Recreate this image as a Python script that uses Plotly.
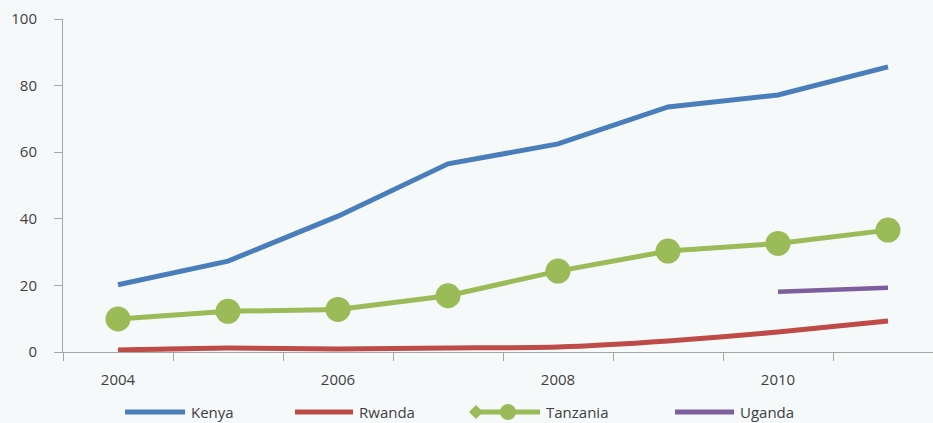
import plotly.graph_objects as go

# Series values by year
years = [2004, 2005, 2006, 2007, 2008, 2009, 2010, 2011]
kenya = [20.2, 27.3, 40.8, 56.5, 62.5, 73.6, 77.2, 85.6]
rwanda = [0.6, 1.2, 0.9, 1.2, 1.5, 3.3, 6.0, 9.3]
tanzania = [9.9, 12.2, 12.8, 16.9, 24.3, 30.3, 32.6, 36.6]
uganda_years = [2010, 2011]
uganda = [18.1, 19.3]

x_tick_labels = ["2004", "2006", "2008", "2010"]
x_tick_vals = [2004, 2006, 2008, 2010]
y_tick_vals = [0, 20, 40, 60, 80, 100]

BLUE = "#4a7ebb"
RED = "#be4b48"
GREEN = "#9bbb59"
PURPLE = "#7d5fa0"
AXIS = "#a6a6a6"
TEXT = "#404040"
BG = "#f6f9fa"
FONT = "Open Sans"

W, H = 933, 423
ML, MR, MT, MB = 63, 0, 19, 71
PW, PH = W - ML - MR, H - MT - MB

fig = go.Figure()
fig.add_trace(go.Scatter(x=years, y=kenya, mode="lines", name="Kenya",
                         line=dict(color=BLUE, width=5)))
fig.add_trace(go.Scatter(x=years, y=rwanda, mode="lines", name="Rwanda",
                         line=dict(color=RED, width=5, shape="spline", smoothing=0.6)))
fig.add_trace(go.Scatter(x=years, y=tanzania, mode="lines+markers", name="Tanzania",
                         line=dict(color=GREEN, width=5),
                         marker=dict(color=GREEN, size=25)))
fig.add_trace(go.Scatter(x=uganda_years, y=uganda, mode="lines", name="Uganda",
                         line=dict(color=PURPLE, width=4.5)))


def px_x(px):
    return (px - ML) / PW


def px_y(py):
    return (H - MB - py) / PH


# Legend row below the axis
shapes = []
annotations = []
LY = 412
legend_items = [
    ("Kenya", BLUE, 125, 185, 189, None),
    ("Rwanda", RED, 295, 353, 357, None),
    ("Tanzania", GREEN, 476, 540, 544, 508),
    ("Uganda", PURPLE, 675, 734, 738, None),
]
for label, color, x0, x1, tx, marker_x in legend_items:
    shapes.append(dict(type="line", xref="paper", yref="paper",
                       x0=px_x(x0), x1=px_x(x1), y0=px_y(LY), y1=px_y(LY),
                       line=dict(color=color, width=5)))
    if marker_x is not None:
        r = 8
        shapes.append(dict(type="circle", xref="paper", yref="paper",
                           x0=px_x(marker_x - r), x1=px_x(marker_x + r),
                           y0=px_y(LY + r), y1=px_y(LY - r),
                           fillcolor=color, line=dict(width=0)))
        d = 7
        path = (f"M {px_x(x0 - d)} {px_y(LY)} L {px_x(x0)} {px_y(LY - d)} "
                f"L {px_x(x0 + d)} {px_y(LY)} L {px_x(x0)} {px_y(LY + d)} Z")
        shapes.append(dict(type="path", xref="paper", yref="paper", path=path,
                           fillcolor=color, line=dict(width=0)))
    annotations.append(dict(text=label, xref="paper", yref="paper",
                            x=px_x(tx), y=px_y(LY), xanchor="left", yanchor="middle",
                            showarrow=False, font=dict(family=FONT, size=15, color=TEXT)))

fig.update_layout(
    width=W, height=H,
    margin=dict(l=ML, r=MR, t=MT, b=MB, pad=0),
    paper_bgcolor=BG, plot_bgcolor=BG,
    showlegend=False,
    font=dict(family=FONT, size=15, color=TEXT),
    shapes=shapes, annotations=annotations,
    xaxis=dict(
        range=[2003.5, 2003.5 + PW / 110.0],
        tickvals=x_tick_vals, ticktext=x_tick_labels,
        ticks="", showgrid=False, zeroline=False,
        showline=True, linecolor=AXIS, linewidth=1,
        ticklabelstandoff=14,
        tickfont=dict(family=FONT, size=15, color=TEXT),
        minor=dict(tickvals=[2003.5 + i for i in range(8)], ticks="outside",
                   ticklen=8, tickcolor=AXIS, tickwidth=1, showgrid=False),
    ),
    yaxis=dict(
        range=[0, 100], tickvals=y_tick_vals,
        ticks="outside", ticklen=8, tickcolor=AXIS, tickwidth=1,
        showgrid=False, zeroline=False,
        showline=True, linecolor=AXIS, linewidth=1,
        ticklabelstandoff=14,
        tickfont=dict(family=FONT, size=15, color=TEXT),
    ),
)

fig.write_html("out.html")
